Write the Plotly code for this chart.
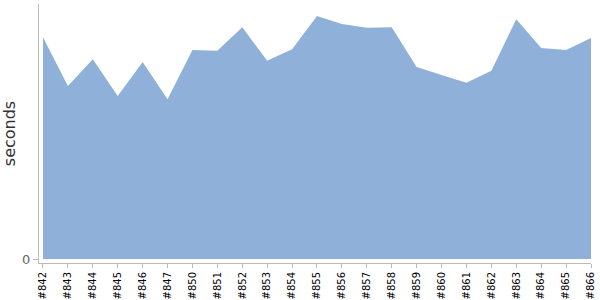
import plotly.graph_objects as go

builds = ["#842", "#843", "#844", "#845", "#846", "#847", "#850", "#851", "#852",
          "#853", "#854", "#855", "#856", "#857", "#858", "#859", "#860", "#861",
          "#862", "#863", "#864", "#865", "#866"]
seconds = [221.7, 173, 199.7, 163, 197, 159.7, 209, 208.3, 231.7,
           198.3, 209.7, 243, 235, 231.3, 231.7, 192, 184, 176.3,
           188.3, 239.7, 211, 209, 221]

fig = go.Figure()
fig.add_trace(go.Scatter(
    x=list(range(len(builds))), y=seconds,
    mode="lines", fill="tozeroy",
    line=dict(color="rgb(143,177,217)", width=0),
    fillcolor="rgb(143,177,217)",
    hoverinfo="skip",
))

fig.update_layout(
    width=600, height=300,
    margin=dict(l=39, r=9, t=4, b=37, autoexpand=False),
    paper_bgcolor="white", plot_bgcolor="white",
    showlegend=False,
    font=dict(family="DejaVu Sans", size=10, color="#000"),
    xaxis=dict(
        range=[-0.16, len(builds) - 1],
        tickvals=list(range(len(builds))), ticktext=builds,
        tickangle=-90, ticks="outside", ticklen=4, tickcolor="#bbb",
        showline=True, linecolor="#bbb", linewidth=1,
        showgrid=False, zeroline=False, automargin=False,
        tickfont=dict(size=10, color="#000"),
    ),
    yaxis=dict(
        range=[-4, 255],
        tickvals=[0], ticktext=["0"],
        ticks="outside", ticklen=5, tickcolor="#bbb",
        showline=True, linecolor="#bbb", linewidth=1,
        showgrid=False, zeroline=False, automargin=False,
        tickfont=dict(size=13, color="#666"),
        title=dict(text="seconds", font=dict(size=16, color="#333"), standoff=9),
    ),
)

fig.write_html("out.html")
